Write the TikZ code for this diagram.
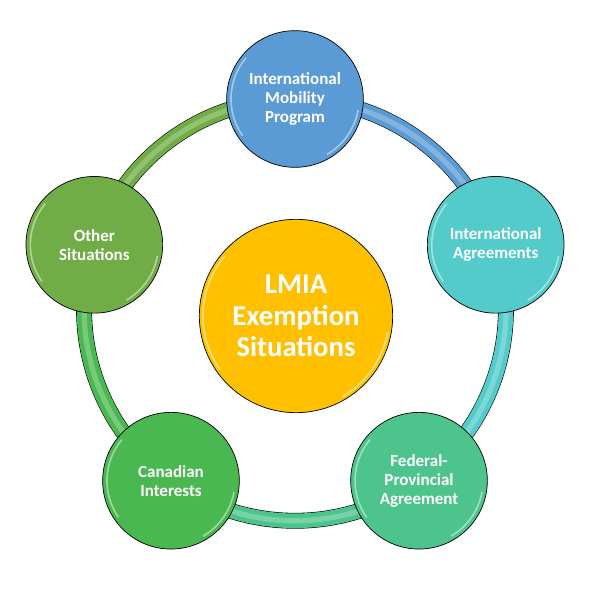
\documentclass[tikz,border=0pt]{standalone}
\usepackage{fontspec}
\setmainfont{Carlito}
\usepackage{tikz}
\usetikzlibrary{backgrounds}
\definecolor{imblue}{RGB}{91,155,213}
\definecolor{iacyan}{RGB}{82,203,202}
\definecolor{fpteal}{RGB}{76,196,140}
\definecolor{cigreen}{RGB}{74,184,80}
\definecolor{osgreen}{RGB}{112,173,71}
\definecolor{hubgold}{RGB}{255,192,0}
\tikzstyle{bubble} = [circle, draw=black, line width=0.6pt, text=white, align=center, inner sep=0pt, minimum size=4.1cm, font=\bfseries\fontsize{14.5}{16.2}\selectfont, path picture={
  \draw[white, opacity=0.45, line width=1.4pt] (path picture bounding box.center) ++(215:64) arc[start angle=215, end angle=140, radius=64];
  \draw[white, opacity=0.45, line width=1.4pt] (path picture bounding box.center) ++(-10:64) arc[start angle=-10, end angle=-60, radius=64];}]
\tikzstyle{hub} = [circle, draw=black, line width=0.6pt, text=white, align=center, inner sep=0pt, minimum size=5.8cm, font=\bfseries\fontsize{24.5}{26.8}\selectfont, path picture={
  \draw[white, opacity=0.45, line width=1.6pt] (path picture bounding box.center) ++(215:93) arc[start angle=215, end angle=140, radius=93];
  \draw[white, opacity=0.45, line width=1.6pt] (path picture bounding box.center) ++(-10:93) arc[start angle=-10, end angle=-60, radius=93];}]
\tikzstyle{band} = [draw=black, line width=0.5pt, double distance=12.5pt, bend left=36, looseness=0.94]
\tikzstyle{glint} = [line width=4.5pt, opacity=0.45, bend left=36, looseness=0.94]

\begin{document}
\begin{tikzpicture}[x=0.03cm, y=0.03cm]
    \useasboundingbox (-295,-286) rectangle (303,310);

    % ring of situations, radius 211
    \node[bubble, fill=imblue] (IMP) at (90:211) {International\\Mobility\\Program};
    \node[bubble, fill=iacyan] (IA) at (18:211) {International\\Agreements};
    \node[bubble, fill=fpteal] (FPA) at (-54:211) {Federal-\\Provincial\\Agreement};
    \node[bubble, fill=cigreen] (CI) at (-126:211) {Canadian\\Interests};
    \node[bubble, fill=osgreen] (OS) at (162:211) {Other\\Situations};

    \node[hub, fill=hubgold] (LMIA) at (1,-6) {LMIA\\Exemption\\Situations};

    \begin{scope}[on background layer]
    \draw[band, double=imblue] (IMP.center) to (IA.center);
    \draw[glint, imblue!45!white] (IMP.center) to (IA.center);
    \draw[band, double=iacyan] (IA.center) to (FPA.center);
    \draw[glint, iacyan!45!white] (IA.center) to (FPA.center);
    \draw[band, double=fpteal] (FPA.center) to (CI.center);
    \draw[glint, fpteal!45!white] (FPA.center) to (CI.center);
    \draw[band, double=cigreen] (CI.center) to (OS.center);
    \draw[glint, cigreen!45!white] (CI.center) to (OS.center);
    \draw[band, double=osgreen] (OS.center) to (IMP.center);
    \draw[glint, osgreen!45!white] (OS.center) to (IMP.center);
    \end{scope}

\end{tikzpicture}
\end{document}
